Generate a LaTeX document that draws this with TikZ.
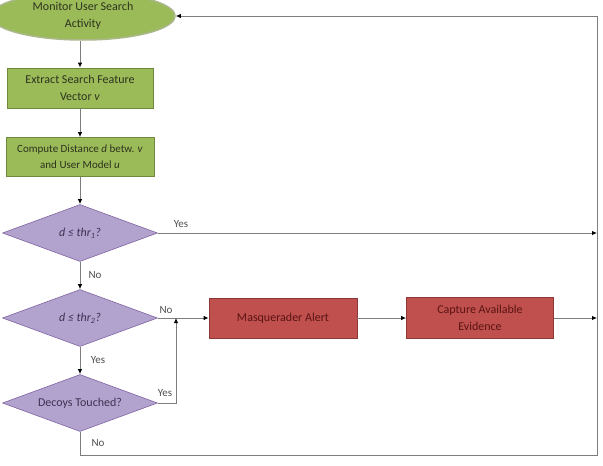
\documentclass[tikz,border=0pt]{standalone}
\usepackage{fontspec}
\setmainfont{Carlito}
\usetikzlibrary{shapes.geometric,arrows.meta}
\definecolor{gfill}{RGB}{155,187,89}
\definecolor{gdraw}{RGB}{113,137,63}
\definecolor{pfill}{RGB}{178,162,206}
\definecolor{pdraw}{RGB}{128,100,162}
\definecolor{rfill}{RGB}{192,80,77}
\definecolor{rdraw}{RGB}{140,56,54}
\definecolor{ln}{RGB}{125,125,125}
\definecolor{gtext}{RGB}{45,50,30}
\definecolor{ptext}{RGB}{63,49,81}
\definecolor{rtext}{RGB}{90,20,20}
\definecolor{lbl}{RGB}{80,80,80}
\begin{document}
\begin{tikzpicture}[x=1pt,y=-1pt,
  font=\fontsize{12}{17}\selectfont,
  gbox/.style={rectangle, fill=gfill, draw=gdraw, line width=0.8pt, minimum width=146pt, minimum height=40pt, align=center, text=gtext, inner sep=1pt},
  rbox/.style={rectangle, fill=rfill, draw=rdraw, line width=0.8pt, minimum width=148pt, minimum height=40pt, align=center, text=rtext, inner sep=1pt},
  dec/.style={diamond, aspect=2.8, fill=pfill, draw=pdraw, line width=0.6pt, minimum width=155pt, minimum height=57pt, inner sep=0pt, text=ptext, align=center},
  startnode/.style={ellipse, fill=gfill, draw=gdraw!60!white, line width=1.5pt, minimum width=184pt, minimum height=48pt, align=center, text=gtext, inner sep=0pt},
  conn/.style={draw=ln, line width=0.9pt, -{Latex[length=5pt,width=4.5pt,color=black]}},
  lab/.style={text=lbl, font=\fontsize{11}{13}\selectfont, inner sep=0pt}
]
\useasboundingbox (0,0) rectangle (603,466);
\fill[white] (0,0) rectangle (603,466);

\node[startnode] (ell) at (83,16) {Monitor User Search\\Activity};
\node[gbox] (box1) at (80,88) {Extract Search Feature\\Vector \textit{v}};
\node[gbox, font=\fontsize{11}{16}\selectfont, minimum width=148pt, minimum height=39pt] (box2) at (80,157) {Compute Distance \textit{d} betw. \textit{v}\\and User Model \textit{u}};
\node[dec] (d1) at (80,233) {\textit{d ≤ thr\textsubscript{1}?}};
\node[dec] (d2) at (80,318) {\textit{d ≤ thr\textsubscript{2}?}};
\node[dec] (d3) at (80,403) {Decoys Touched?};
\node[rbox] (r1) at (283,318) {Masquerader Alert};
\node[rbox, minimum width=147pt, minimum height=41pt] (r2) at (480,318) {Capture Available\\Evidence};

\coordinate (tr) at (597,16);
\coordinate (br) at (597,455);
\coordinate (bl) at (80,455);
\coordinate (j) at (176,318);
\coordinate (jd) at (176,403);

\draw[conn] (ell.south -| box1.north) -- (box1.north);
\draw[conn] (box1) -- (box2);
\draw[conn] (box2) -- (d1);
\draw[conn] (d1) -- (d2);
\draw[conn] (d2) -- (d3);
\draw[conn] (d1.east) -- (d1.east -| br);
\draw[conn] (d2.east) -- (r1.west);
\draw[conn] (r1) -- (r2);
\draw[conn] (r2.east) -- (r2.east -| br);
\draw[conn] (d3.east) -- (jd) -- (j);
\draw[conn] (d3.south) -- (bl) -- (br) -- (tr) -- (ell.east);

\node[lab] (l1) at (181,224) {Yes};
\node[lab] (l2) at (95,275) {No};
\node[lab] (l3) at (166,310) {No};
\node[lab] (l4) at (98,360) {Yes};
\node[lab] (l5) at (165,393) {Yes};
\node[lab] (l6) at (98,443) {No};
\end{tikzpicture}
\end{document}
